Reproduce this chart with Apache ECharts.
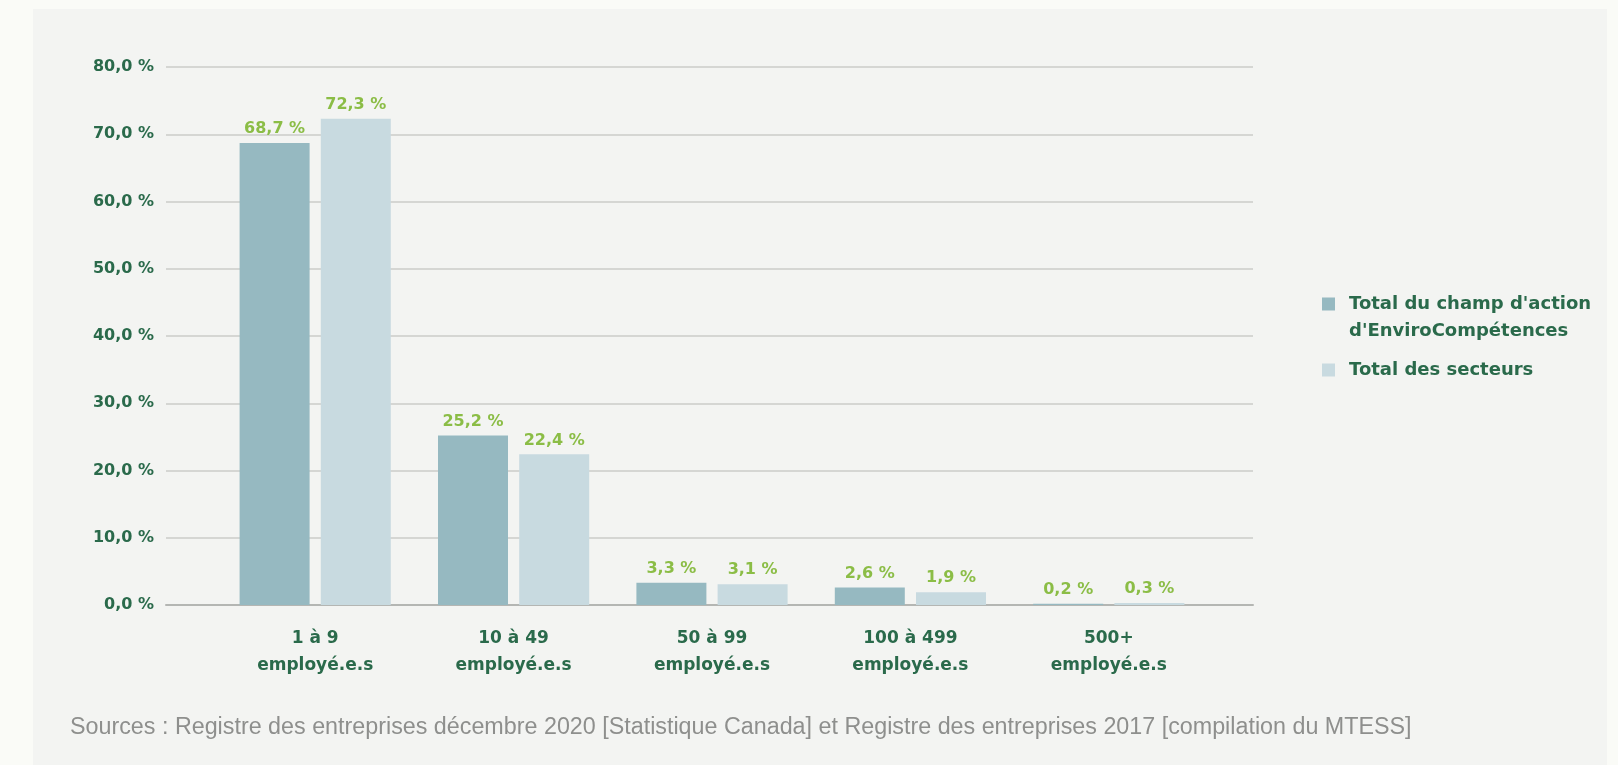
<!DOCTYPE html>
<html>
<head>
<meta charset="utf-8">
<script src="https://cdn.jsdelivr.net/npm/echarts@6/dist/echarts.min.js"></script>
<style>
  html, body { margin: 0; padding: 0; background: #fafbf7; }
  #panel { position: absolute; left: 33px; top: 9px; width: 1574px; height: 756px; background: #f3f4f2; }
  #chart { position: absolute; left: 0; top: 0; width: 1618px; height: 765px; }
</style>
</head>
<body>
<div id="panel"></div>
<div id="chart"></div>
<script>
const categories = ['1 à 9\nemployé.e.s', '10 à 49\nemployé.e.s', '50 à 99\nemployé.e.s', '100 à 499\nemployé.e.s', '500+\nemployé.e.s'];
const seriesNames = ["Total du champ d'action\nd'EnviroCompétences", 'Total des secteurs'];
const enviroValues = [68.7, 25.2, 3.3, 2.6, 0.2];
const totalValues = [72.3, 22.4, 3.1, 1.9, 0.3];
const yTicks = [0, 10, 20, 30, 40, 50, 60, 70, 80];
const sourceText = 'Sources : Registre des entreprises décembre 2020 [Statistique Canada] et Registre des entreprises 2017 [compilation du MTESS]';

const darkGreen = '#2a6a4b';
const labelGreen = '#8bbd46';
const FONT = 'DejaVu Sans';
const fmt = v => v.toFixed(1).replace('.', ',') + ' %';

const chart = echarts.init(document.getElementById('chart'), null, { renderer: 'canvas' });
chart.setOption({
  backgroundColor: 'transparent',
  animation: false,
  color: ['#96b9c1', '#c8dae0'],
  title: {
    text: sourceText,
    left: 70, top: 715, padding: 0,
    textStyle: { fontFamily: 'Liberation Sans', fontSize: 23.3, fontWeight: 'normal', color: '#8e8f8d', lineHeight: 26 }
  },
  legend: [
    {
      data: [seriesNames[0]], orient: 'vertical', left: 1322, top: 263.5, padding: 0,
      itemWidth: 13, itemHeight: 13, icon: 'rect', selectedMode: false,
      formatter: name => '\n' + name,
      textStyle: { fontFamily: FONT, fontSize: 18, fontWeight: 'bold', color: darkGreen, lineHeight: 27, padding: [0, 0, 0, 9] }
    },
    {
      data: [seriesNames[1]], orient: 'vertical', left: 1322, top: 356.5, padding: 0,
      itemWidth: 13, itemHeight: 13, icon: 'rect', selectedMode: false,
      textStyle: { fontFamily: FONT, fontSize: 18, fontWeight: 'bold', color: darkGreen, lineHeight: 27, padding: [0, 0, 0, 9] }
    }
  ],
  grid: [
    { left: 166, right: 365, top: 67, bottom: 160 },
    { left: 216, right: 410, top: 67, bottom: 160 }
  ],
  xAxis: [
    {
      gridIndex: 0, type: 'value', min: 0, max: 1,
      axisLine: { show: true, onZero: false, lineStyle: { color: '#b4b6b3', width: 2 } },
      axisTick: { show: false }, axisLabel: { show: false }, splitLine: { show: false }
    },
    {
      gridIndex: 1, type: 'category', data: categories,
      axisLine: { show: false }, axisTick: { show: false },
      axisLabel: { margin: 20, fontFamily: FONT, fontSize: 17, fontWeight: 'bold', color: darkGreen, lineHeight: 27, interval: 0 }
    }
  ],
  yAxis: [
    {
      gridIndex: 0, type: 'value', min: yTicks[0], max: yTicks[yTicks.length - 1], interval: yTicks[1] - yTicks[0],
      axisLine: { show: false }, axisTick: { show: false },
      axisLabel: { margin: 12, fontFamily: FONT, fontSize: 16, fontWeight: 'bold', color: darkGreen, formatter: v => fmt(v) },
      splitLine: { show: true, lineStyle: { color: '#cbccc9', width: 1.5 } }
    },
    {
      gridIndex: 1, type: 'value', min: yTicks[0], max: yTicks[yTicks.length - 1], interval: yTicks[1] - yTicks[0],
      show: false, splitLine: { show: false }
    }
  ],
  series: [
    {
      name: seriesNames[0], type: 'bar', xAxisIndex: 1, yAxisIndex: 1, data: enviroValues,
      barWidth: 70, barGap: '16%',
      label: { show: true, position: 'top', distance: 6, fontFamily: FONT, fontSize: 16, fontWeight: 'bold', color: labelGreen, formatter: p => fmt(p.value) }
    },
    {
      name: seriesNames[1], type: 'bar', xAxisIndex: 1, yAxisIndex: 1, data: totalValues,
      barWidth: 70, barGap: '16%',
      label: { show: true, position: 'top', distance: 6, fontFamily: FONT, fontSize: 16, fontWeight: 'bold', color: labelGreen, formatter: p => fmt(p.value) }
    }
  ]
});
</script>
</body>
</html>
